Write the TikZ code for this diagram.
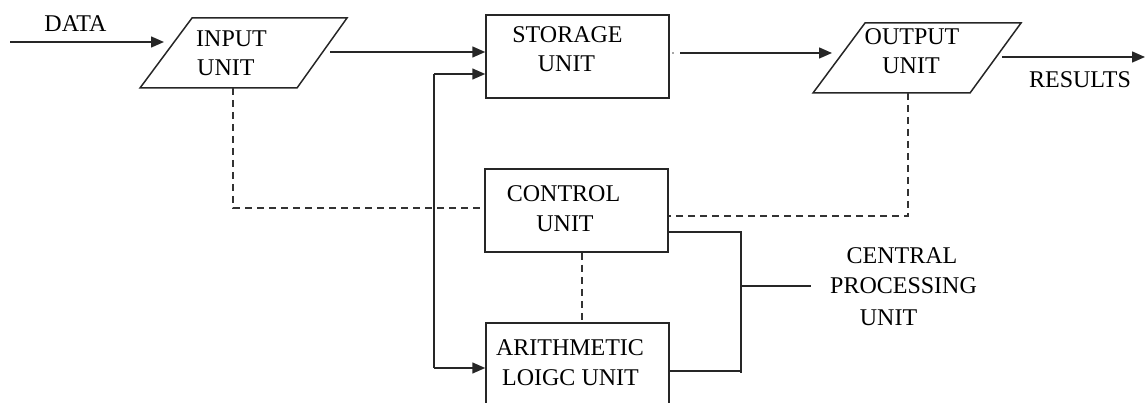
\documentclass[tikz,border=0pt]{standalone}
\usepackage{fontspec}
\setmainfont{Liberation Serif}
\usetikzlibrary{arrows.meta}
\begin{document}
\begin{tikzpicture}[x=1pt,y=-1pt,
  wire/.style={draw=black!85, line width=1.5pt},
  flow/.style={wire, -{Triangle[length=13pt,width=11pt]}},
  ctrl/.style={draw=black!80, line width=1.2pt, dash pattern=on 7pt off 5pt},
  unitbox/.style={rectangle, draw=black!85, line width=1.5pt, fill=white,
    minimum width=183pt, minimum height=83pt, inner sep=0pt},
  lbl/.style={font=\fontsize{24}{29}\selectfont, anchor=base, inner sep=0pt},
]
\useasboundingbox (0,0) rectangle (1145,403);
\clip (0,0) rectangle (1145,403);

% --- input and output units (parallelograms)
\coordinate (in-tl) at (192,18);  \coordinate (in-tr) at (347,18);
\coordinate (in-br) at (297,88);  \coordinate (in-bl) at (140,88);
\draw[wire, line join=miter] (in-tl) -- (in-tr) -- (in-br) -- (in-bl) -- cycle;
\node[inner sep=0pt, minimum width=155pt, minimum height=70pt] (input) at (243.5,53) {};

\coordinate (out-tl) at (865,23); \coordinate (out-tr) at (1021,23);
\coordinate (out-br) at (970,93); \coordinate (out-bl) at (813,93);
\draw[wire, line join=miter] (out-tl) -- (out-tr) -- (out-br) -- (out-bl) -- cycle;
\node[inner sep=0pt, minimum width=156pt, minimum height=70pt] (output) at (917,58) {};

% --- rectangular units
\node[unitbox] (storage) at (577.5,56.5) {};
\node[unitbox] (control) at (576.5,210.5) {};
\node[unitbox, minimum height=84pt] (alu) at (577.5,365) {};

% --- labels
\node[lbl] (t-data) at (75.5,32) {DATA};
\node[lbl, anchor=base west] (t-in1) at (196,47) {INPUT};
\node[lbl, anchor=base west] (t-in2) at (197,76) {UNIT};
\node[lbl] (t-st1) at (567.5,43) {STORAGE};
\node[lbl] (t-st2) at (566.5,72) {UNIT};
\node[lbl] (t-out1) at (912,45) {OUTPUT};
\node[lbl] (t-out2) at (911,74) {UNIT};
\node[lbl] (t-res) at (1080,88) {RESULTS};
\node[lbl] (t-cu1) at (563.5,202) {CONTROL};
\node[lbl] (t-cu2) at (565,232) {UNIT};
\node[lbl] (t-alu1) at (570,355) {ARITHMETIC};
\node[lbl] (t-alu2) at (570.5,385) {LOIGC UNIT};
\node[lbl] (t-cpu1) at (902,264) {CENTRAL};
\node[lbl] (t-cpu2) at (903.5,294) {PROCESSING};
\node[lbl] (t-cpu3) at (888.5,325) {UNIT};

% --- data flow
\coordinate (data-in) at (10,42);
\coordinate (in-out) at (330,52);
\coordinate (st-out) at (680,53);
\coordinate (res-out) at (1002,57);
\draw[flow] (data-in) -- (164,42);
\draw[flow] (in-out) -- (in-out -| storage.west);
\fill[black!70] (673,53) circle (0.8pt);
\draw[flow] (st-out) -- (832,53);
\draw[flow] (res-out) -- (1145,57);

% --- bus feeding storage and the ALU
\coordinate (bus-top) at (434,74);
\coordinate (bus-bot) at (434,368);
\draw[wire] (bus-top) -- (bus-bot);
\draw[flow] (bus-top) -- (bus-top -| storage.west);
\draw[flow] (bus-bot) -- (bus-bot -| alu.west);

% --- control lines
\coordinate (in-ctl) at (233,88);
\coordinate (out-ctl) at (908,93);
\draw[ctrl] (in-ctl) -- (233,208) -- (233,208 -| control.west);
\draw[ctrl] (out-ctl) -- (908,216) -- (908,216 -| control.east);
\draw[ctrl] (control.south -| 582,0) -- (alu.north -| 582,0);

% --- central processing unit bracket
\coordinate (br-x) at (741,286);
\draw[wire] (control.east |- 0,232) -- (741,232) -- (741,373);
\draw[wire] (alu.east |- 0,371) -- (741,371);
\draw[wire] (br-x) -- (811,286);
\end{tikzpicture}
\end{document}
